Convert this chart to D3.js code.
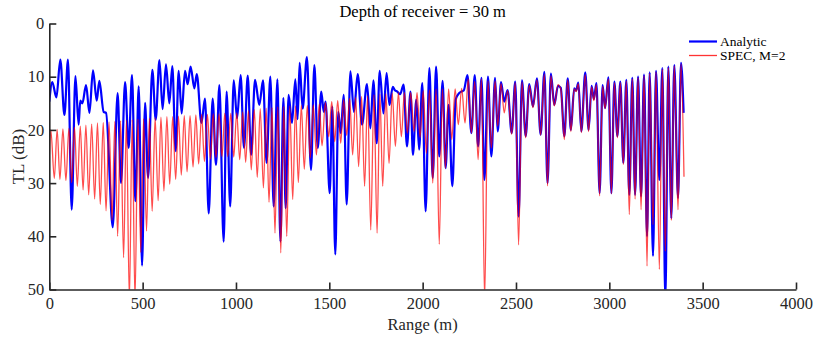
<!DOCTYPE html>
<html><head><meta charset="utf-8">
<script src="https://cdn.jsdelivr.net/npm/d3@7"></script>
<style>html,body{margin:0;padding:0;background:#fff}</style>
</head><body>
<svg id="c" width="815" height="340"></svg>
<script>
const title = "Depth of receiver = 30 m";
const xLabel = "Range (m)";
const yLabel = "TL (dB)";
const seriesNames = ["Analytic", "SPEC, M=2"];
const rangeTicks = [0,500,1000,1500,2000,2500,3000,3500,4000];
const tlTicks = [0,10,20,30,40,50];

// Analytic: [range (m), TL (dB)]
const analytic = [[0,14.7],[16,11.0],[38,13.9],[59,6.8],[81,17.2],[100,6.8],[120,35.0],[140,9.9],[157,19.0],[166,14.5],[177,15.0],[197,11.6],[215,16.8],[234,8.8],[254,14.5],[268,10.8],[291,16.6],[304,16.8],[340,38.3],[366,13.1],[384,30.0],[406,11.0],[425,23.4],[443,9.7],[461,33.4],[479,11.8],[497,45.5],[513,14.9],[529,29.0],[552,8.7],[570,18.1],[590,6.9],[607,16.1],[625,7.7],[643,15.0],[659,8.0],[677,24.0],[693,8.9],[709,16.9],[727,8.9],[741,11.4],[757,8.1],[777,12.2],[790,9.5],[815,18.7],[834,14.1],[854,35.7],[875,14.1],[893,26.6],[911,11.6],[934,41.0],[950,12.8],[969,34.4],[988,10.7],[1006,17.8],[1025,9.7],[1043,23.4],[1063,9.8],[1081,24.7],[1102,10.6],[1125,15.3],[1145,10.7],[1164,26.2],[1184,10.0],[1202,34.4],[1222,10.5],[1238,41.0],[1254,14.0],[1266,34.7],[1282,13.4],[1300,18.7],[1318,10.5],[1330,18.0],[1341,7.4],[1357,16.0],[1380,6.3],[1402,27.5],[1420,7.8],[1438,23.4],[1457,12.8],[1470,16.6],[1480,14.7],[1502,31.9],[1516,15.6],[1532,43.4],[1548,16.6],[1561,20.6],[1577,13.4],[1593,34.0],[1613,9.0],[1632,16.6],[1652,9.5],[1675,19.0],[1702,11.4],[1720,19.7],[1736,10.7],[1754,22.5],[1770,8.9],[1790,16.9],[1807,9.3],[1822,15.3],[1840,11.9],[1850,12.5],[1864,12.8],[1879,13.3],[1898,11.5],[1916,23.1],[1935,12.8],[1948,24.7],[1966,14.3],[1981,23.7],[1998,11.2],[2016,35.3],[2036,8.4],[2054,29.0],[2072,8.1],[2089,25.0],[2107,10.8],[2123,27.2],[2139,15.3],[2159,30.6],[2177,14.3],[2195,13.1],[2207,12.8],[2220,12.6],[2240,9.7],[2261,20.6],[2279,9.7],[2297,23.1],[2315,10.2],[2331,29.4],[2350,10.0],[2368,25.0],[2388,10.2],[2402,20.3],[2420,11.0],[2437,14.7],[2455,12.5],[2477,20.6],[2496,10.9],[2514,36.3],[2532,10.7],[2552,21.2],[2571,11.4],[2591,15.6],[2612,10.3],[2632,20.9],[2652,9.1],[2669,30.0],[2687,9.4],[2705,15.3],[2725,11.7],[2740,12.1],[2759,21.2],[2777,10.3],[2794,20.0],[2812,12.2],[2822,12.6],[2834,11.1],[2850,20.3],[2871,9.2],[2889,20.0],[2905,11.7],[2917,14.2],[2931,11.2],[2948,31.9],[2964,11.6],[2977,15.9],[2995,10.1],[3011,31.9],[3027,10.9],[3043,21.2],[3059,10.9],[3075,26.2],[3091,10.6],[3107,32.2],[3123,10.2],[3138,32.2],[3154,10.0],[3170,32.5],[3186,9.6],[3202,40.0],[3216,9.2],[3234,43.7],[3250,8.9],[3268,29.4],[3284,8.4],[3300,52.0],[3316,8.1],[3332,36.6],[3348,7.8],[3368,32.8],[3384,7.4],[3398,16.8]];

// SPEC, M=2: [range (m), TL (dB)]
const spec = [[0,25.0],[8,20.0],[27,29.1],[42,19.9],[57,29.3],[73,19.8],[89,29.5],[105,19.7],[120,29.9],[135,19.5],[150,30.6],[166,19.3],[181,31.3],[196,19.1],[211,32.2],[227,18.9],[243,33.0],[258,18.7],[273,34.0],[289,18.6],[304,35.2],[320,18.5],[336,37.0],[351,18.4],[366,40.0],[382,18.3],[398,44.0],[413,18.2],[429,52.0],[444,18.1],[459,52.0],[475,18.0],[490,43.0],[505,17.9],[521,39.0],[536,17.8],[551,35.3],[567,17.7],[583,33.3],[598,17.6],[614,31.5],[630,17.5],[645,30.2],[661,17.5],[677,29.3],[692,17.4],[707,28.5],[723,17.3],[738,27.9],[754,17.3],[770,27.0],[785,17.2],[800,26.4],[816,17.1],[831,25.9],[847,17.1],[863,25.5],[878,17.0],[893,25.2],[909,17.0],[925,25.0],[940,16.9],[956,25.0],[972,16.9],[988,25.1],[1004,16.8],[1020,25.6],[1036,16.6],[1052,26.1],[1067,16.4],[1082,27.5],[1098,16.2],[1114,28.9],[1130,16.0],[1147,30.9],[1162,15.9],[1177,33.6],[1193,15.8],[1209,39.4],[1224,15.7],[1240,43.1],[1256,15.6],[1272,40.0],[1288,15.5],[1304,33.1],[1319,15.5],[1334,29.9],[1350,15.4],[1366,27.4],[1382,15.4],[1398,25.3],[1414,15.3],[1431,24.7],[1446,15.1],[1461,23.0],[1479,14.9],[1497,21.3],[1513,14.7],[1529,22.2],[1545,14.5],[1561,22.5],[1577,14.3],[1593,21.0],[1609,14.1],[1625,24.7],[1641,13.9],[1657,26.9],[1673,13.7],[1689,30.6],[1705,13.6],[1722,38.8],[1739,13.4],[1756,39.4],[1771,13.3],[1786,30.6],[1803,13.2],[1820,26.3],[1837,13.1],[1854,23.1],[1870,13.0],[1886,21.3],[1902,13.0],[1918,20.6],[1936,13.0],[1954,20.3],[1970,13.0],[1986,21.4],[2003,12.6],[2020,24.4],[2037,12.5],[2054,30.0],[2072,12.3],[2089,41.5],[2106,12.3],[2122,27.2],[2139,12.3],[2156,21.8],[2174,12.3],[2191,19.0],[2209,12.2],[2227,18.7],[2244,10.4],[2261,20.6],[2279,10.9],[2297,25.6],[2315,10.4],[2332,52.0],[2350,10.8],[2368,23.4],[2388,10.8],[2402,19.3],[2420,11.3],[2437,16.8],[2455,12.6],[2477,20.8],[2496,11.1],[2514,41.6],[2532,11.0],[2552,21.5],[2571,11.6],[2591,15.8],[2612,10.6],[2632,21.0],[2652,9.5],[2669,30.5],[2687,9.8],[2705,15.5],[2725,11.5],[2740,12.3],[2759,21.8],[2777,10.6],[2794,20.3],[2812,12.3],[2822,12.8],[2834,11.3],[2850,20.5],[2871,9.6],[2889,20.3],[2905,11.9],[2917,14.5],[2931,11.5],[2948,32.4],[2964,11.8],[2977,16.0],[2995,10.4],[3011,32.0],[3027,11.1],[3043,21.5],[3059,11.1],[3075,26.5],[3091,10.8],[3107,35.9],[3123,10.4],[3138,33.0],[3154,10.2],[3170,35.0],[3186,9.8],[3202,45.6],[3216,9.4],[3234,37.8],[3250,9.1],[3268,46.2],[3284,8.6],[3300,42.8],[3316,8.3],[3332,37.0],[3348,8.0],[3368,35.0],[3384,7.6],[3400,28.8]];

const W = 815, H = 340;
const plot = {left: 49.3, right: 796, top: 23.5, bottom: 289.5};
const FONT = "'Liberation Serif','Times New Roman',serif";
const svg = d3.select("#c");

const x = d3.scaleLinear().domain([0, 4000]).range([plot.left, plot.right]);
const y = d3.scaleLinear().domain([0, 50]).range([plot.top, plot.bottom]);

svg.append("defs").append("clipPath").attr("id", "clip")
  .append("rect").attr("x", plot.left).attr("y", plot.top)
  .attr("width", plot.right - plot.left).attr("height", plot.bottom - plot.top);

const line = d3.line().x(d => x(d[0])).y(d => y(d[1])).curve(d3.curveMonotoneX);

const g = svg.append("g").attr("clip-path", "url(#clip)");
g.append("path").datum(analytic).attr("d", line)
  .attr("fill", "none").attr("stroke", "#0000ff").attr("stroke-width", 2.2).attr("stroke-linejoin", "round");
g.append("path").datum(spec).attr("d", line)
  .attr("fill", "none").attr("stroke", "#ff0000").attr("stroke-opacity", 0.7).attr("stroke-width", 1.3).attr("stroke-linejoin", "round");

// axes
const fmt = d3.format("d");
const xAxis = d3.axisBottom(x).tickValues(rangeTicks).tickFormat(fmt).tickSizeInner(-7).tickSizeOuter(0).tickPadding(8);
const yAxis = d3.axisLeft(y).tickValues(tlTicks).tickFormat(fmt).tickSizeInner(-7).tickSizeOuter(0).tickPadding(5);
const gx = svg.append("g").attr("transform", `translate(0,${plot.bottom})`).call(xAxis);
const gy = svg.append("g").attr("transform", `translate(${plot.left},0)`).call(yAxis);
[gx, gy].forEach(a => {
  a.select(".domain").attr("stroke", "#262626").attr("stroke-width", 1.6);
  a.selectAll(".tick line").attr("stroke", "#262626").attr("stroke-width", 1.6);
  a.selectAll(".tick text").attr("fill", "#262626").style("font-family", FONT).style("font-size", "16.5px");
});

// title & labels
svg.append("text").attr("x", (plot.left + plot.right) / 2).attr("y", 17)
  .attr("text-anchor", "middle").style("font-family", FONT).style("font-size", "16.5px").attr("fill", "#000").text(title);
svg.append("text").attr("x", (plot.left + plot.right) / 2).attr("y", 330)
  .attr("text-anchor", "middle").style("font-family", FONT).style("font-size", "16.5px").attr("fill", "#262626").text(xLabel);
svg.append("text").attr("transform", `translate(24,${(plot.top + plot.bottom) / 2}) rotate(-90)`)
  .attr("text-anchor", "middle").style("font-family", FONT).style("font-size", "17px").attr("fill", "#262626").text(yLabel);

// legend
const leg = svg.append("g");
const legItems = [
  {name: seriesNames[0], color: "#0000ff", w: 2.2, op: 1},
  {name: seriesNames[1], color: "#ff0000", w: 1.3, op: 0.8}
];
legItems.forEach((d, i) => {
  const yy = 41.5 + i * 14;
  leg.append("line").attr("x1", 689).attr("x2", 717).attr("y1", yy).attr("y2", yy)
    .attr("stroke", d.color).attr("stroke-width", d.w).attr("stroke-opacity", d.op);
  leg.append("text").attr("x", 720).attr("y", yy + 4.5).style("font-family", FONT).style("font-size", "13.5px")
    .attr("fill", "#000").text(d.name);
});
</script>
</body></html>
